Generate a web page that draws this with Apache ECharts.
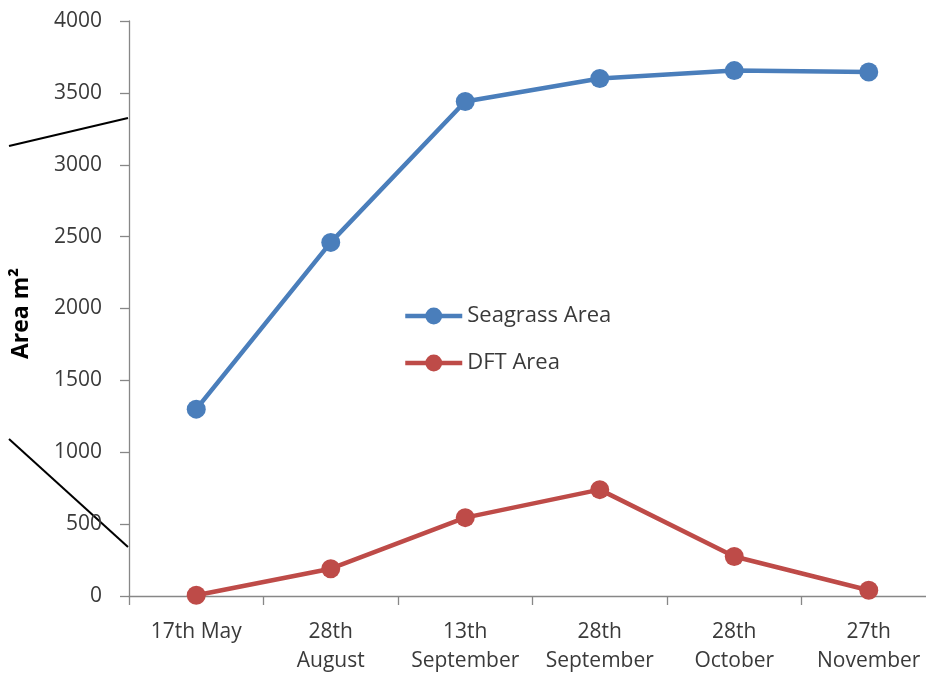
<!DOCTYPE html>
<html>
<head>
<meta charset="utf-8">
<script src="https://cdn.jsdelivr.net/npm/echarts@6/dist/echarts.min.js"></script>
<style>
  html, body { margin: 0; padding: 0; background: #fff; }
  #chart { width: 926px; height: 675px; }
</style>
</head>
<body>
<div id="chart"></div>
<script>
// Survey dates (x-axis categories)
const surveyDates = ['17th May', '28th\nAugust', '13th\nSeptember', '28th\nSeptember', '28th\nOctober', '27th\nNovember'];
// Area values in m²
const seagrassArea = [1300, 2460, 3440, 3600, 3655, 3645];
const dftArea = [5, 190, 545, 740, 275, 40];
// Y-axis range
const yMin = 0, yMax = 4000, yStep = 500;

const FONT = '"Open Sans", "Noto Sans", sans-serif';
const TEXT = '#3a3a3a';
const AXIS = '#878787';

const chart = echarts.init(document.getElementById('chart'), null, { renderer: 'canvas' });
chart.setOption({
  animation: false,
  backgroundColor: '#ffffff',
  textStyle: { fontFamily: FONT },
  grid: { left: 129, top: 21, width: 807, height: 575, containLabel: false, outerBoundsMode: 'none' },
  legend: {
    left: 398, top: 300, orient: 'vertical', itemGap: 25,
    itemWidth: 57, itemHeight: 21,
    lineStyle: { width: 4.5 },
    textStyle: { fontFamily: FONT, fontSize: 22, color: TEXT },
    data: ['Seagrass Area', 'DFT Area']
  },
  xAxis: {
    type: 'category', data: surveyDates, boundaryGap: true,
    axisLine: { lineStyle: { color: AXIS, width: 1.3 } },
    axisTick: { show: true, length: 9, lineStyle: { color: AXIS, width: 1.3 } },
    axisLabel: { color: TEXT, fontSize: 21, fontFamily: FONT, margin: 22, lineHeight: 29, interval: 0 },
    splitLine: { show: false }
  },
  yAxis: {
    type: 'value', min: yMin, max: yMax, interval: yStep,
    name: 'Area m²', nameLocation: 'middle', nameGap: 96, nameRotate: 90,
    nameTextStyle: { fontFamily: FONT, fontSize: 23, fontWeight: 'bold', color: '#000', padding: [0, 10, 0, 0] },
    axisLine: { show: true, lineStyle: { color: AXIS, width: 1.3 } },
    axisTick: { show: true, length: 9, lineStyle: { color: AXIS, width: 1.3 } },
    axisLabel: { color: TEXT, fontSize: 21, fontFamily: FONT, margin: 27, formatter: v => String(v) },
    splitLine: { show: false }
  },
  series: [
    {
      name: 'Seagrass Area', type: 'line', data: seagrassArea,
      symbol: 'circle', symbolSize: 19,
      itemStyle: { color: '#4A7EBB' },
      lineStyle: { color: '#4A7EBB', width: 4.5 }
    },
    {
      name: 'DFT Area', type: 'line', data: dftArea,
      symbol: 'circle', symbolSize: 19,
      itemStyle: { color: '#BE4B48' },
      lineStyle: { color: '#BE4B48', width: 4.5 }
    }
  ],
  graphic: [
    { type: 'line', shape: { x1: 9, y1: 146, x2: 128, y2: 118 }, style: { stroke: '#000', lineWidth: 2 } },
    { type: 'line', shape: { x1: 9, y1: 439, x2: 128, y2: 547 }, style: { stroke: '#000', lineWidth: 2 } }
  ]
});
</script>
</body>
</html>
